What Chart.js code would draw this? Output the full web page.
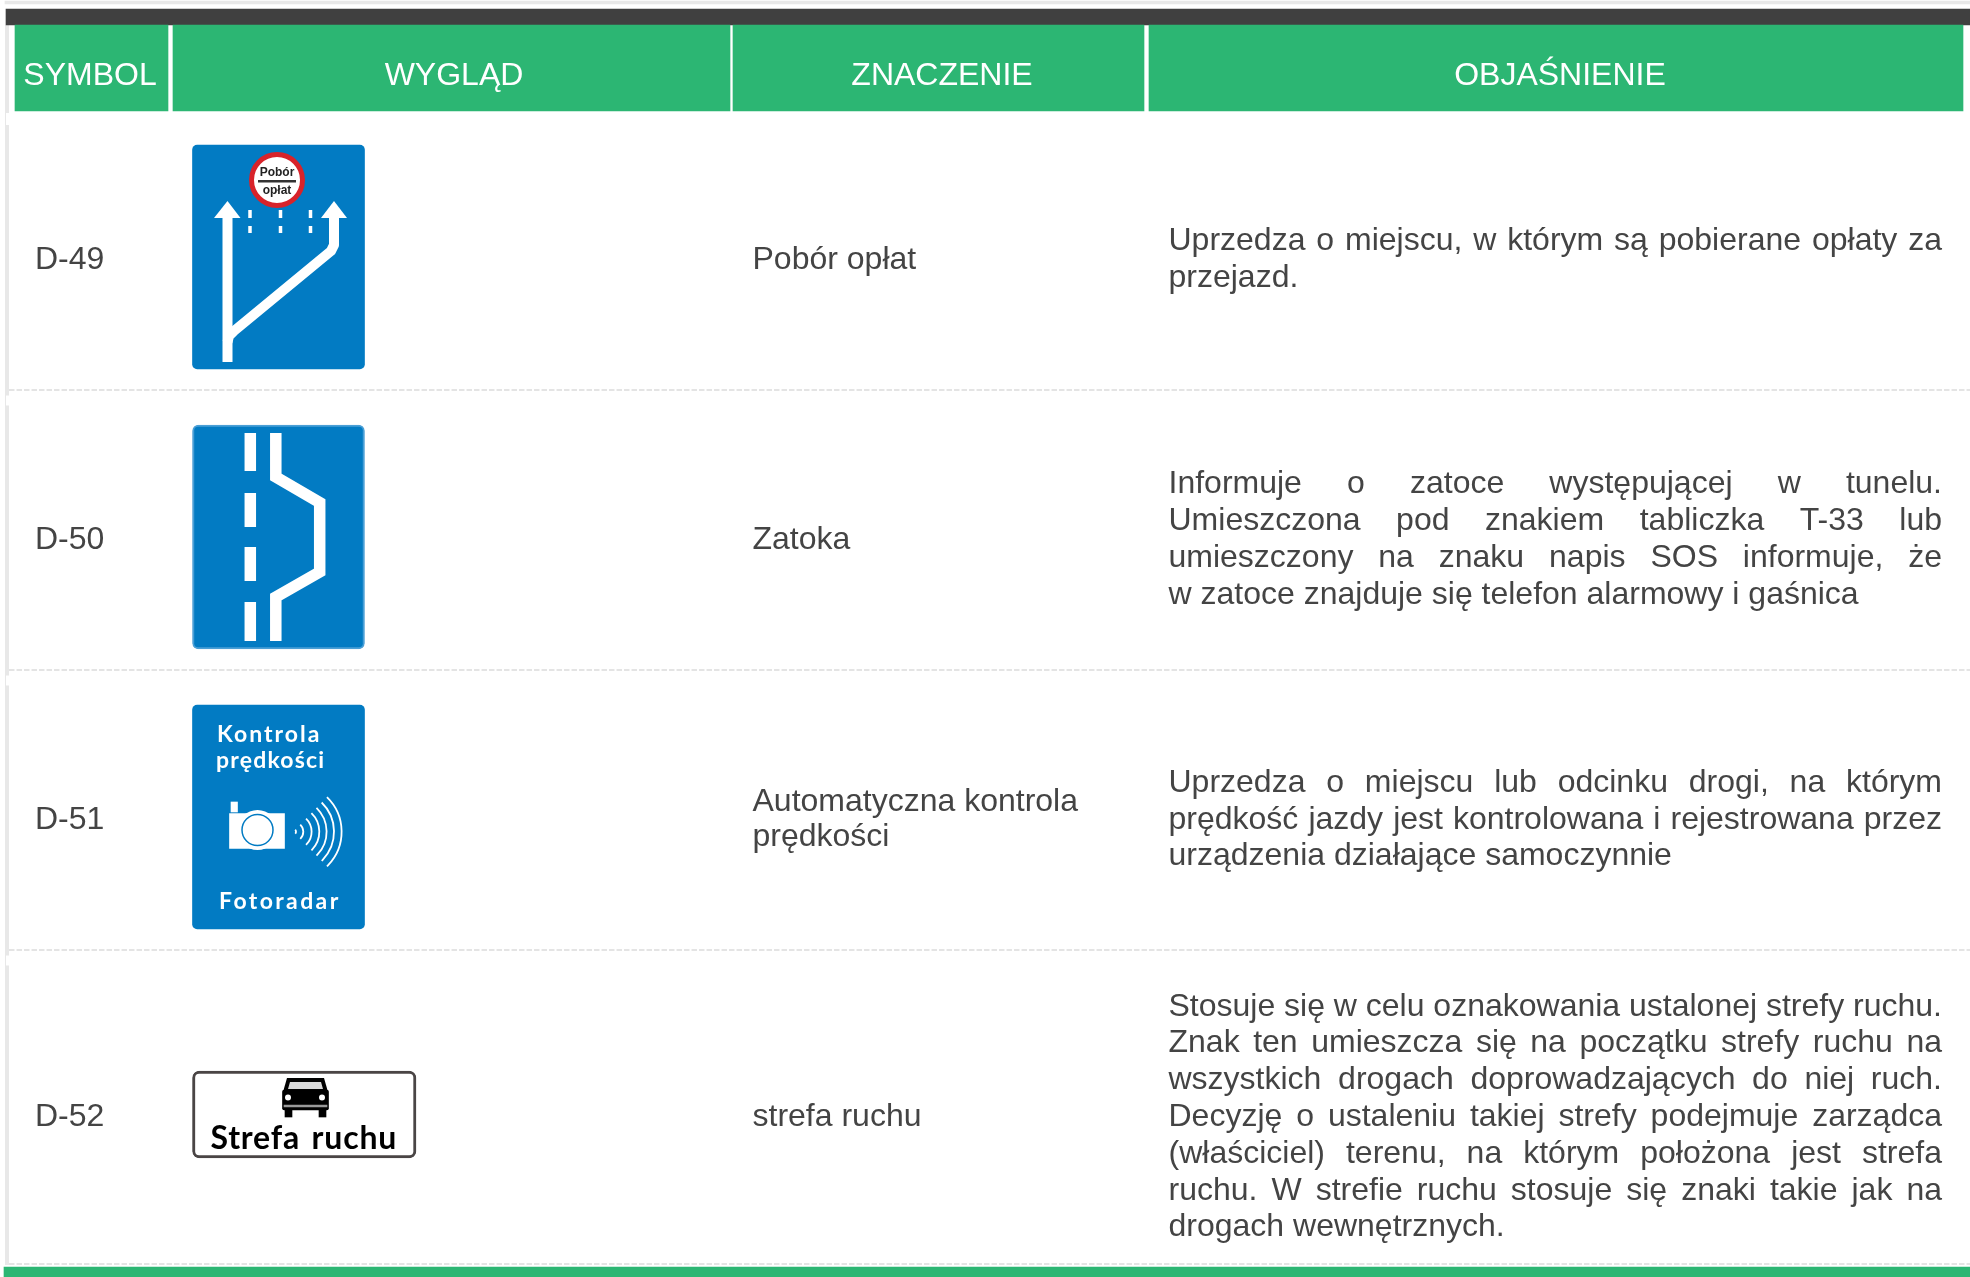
<!DOCTYPE html>
<html lang="pl">
<head>
<meta charset="utf-8">
<title>Znaki D-49 - D-52</title>
<script src="https://cdn.jsdelivr.net/npm/chart.js@4"></script>
<style>
  html, body { margin: 0; padding: 0; background: #fff; }
  canvas { display: block; }
</style>
</head>
<body>
<canvas id="myChart" width="1970" height="1277"></canvas>
<script>
// table content
const headers = ['SYMBOL', 'WYGLĄD', 'ZNACZENIE', 'OBJAŚNIENIE'];
const symbols = ['D-49', 'D-50', 'D-51', 'D-52'];
const meanings = [
  ['Pobór opłat'],
  ['Zatoka'],
  ['Automatyczna kontrola', 'prędkości'],
  ['strefa ruchu']
];
const explanations = [
  ['Uprzedza o miejscu, w którym są pobierane opłaty za', 'przejazd.'],
  ['Informuje o zatoce występującej w tunelu.', 'Umieszczona pod znakiem tabliczka T-33 lub', 'umieszczony na znaku napis SOS informuje, że', 'w zatoce znajduje się telefon alarmowy i gaśnica'],
  ['Uprzedza o miejscu lub odcinku drogi, na którym', 'prędkość jazdy jest kontrolowana i rejestrowana przez', 'urządzenia działające samoczynnie'],
  ['Stosuje się w celu oznakowania ustalonej strefy ruchu.', 'Znak ten umieszcza się na początku strefy ruchu na', 'wszystkich drogach doprowadzających do niej ruch.', 'Decyzję o ustaleniu takiej strefy podejmuje zarządca', '(właściciel) terenu, na którym położona jest strefa', 'ruchu. W strefie ruchu stosuje się znaki takie jak na', 'drogach wewnętrznych.']
];

// layout, in page pixels (the two axes run 0-1970 and 0-1277)
const colEdges = [[15, 168], [173, 730], [733, 1144], [1149, 1963]];
const headerCenters = [90, 454, 942, 1560];
const rowCenters = [257, 537, 817, 1114.5];
const rowRules = [390, 670, 950, 1264];
const lineGap = 36.8;
const meaningGap = 35;
const signCenters = [257, 537, 817];

const GREEN = '#2cb673', DARK = '#404040', BLUE = '#027bc3', TEXT = '#444444';
const FONT = '"Liberation Sans", Arial, sans-serif';

// rectangle from bars: one dataset per height
function rects(list, top, bottom, color, extra) {
  return Object.assign({
    type: 'bar', indexAxis: 'y', grouped: false,
    barThickness: bottom - top,
    backgroundColor: color, borderSkipped: false,
    data: list.map(r => ({ x: r, y: (top + bottom) / 2 }))
  }, extra);
}
function path(pts, color, width, extra) {
  return Object.assign({
    type: 'scatter', showLine: true, pointRadius: 0, borderColor: color, borderWidth: width,
    borderJoinStyle: 'miter', borderCapStyle: 'butt', fill: false, tension: 0,
    data: pts.map(p => p ? { x: p[0], y: p[1] } : { x: null, y: null })
  }, extra);
}
function shape(pts, color) {
  return path(pts.concat([pts[0]]), color, 0, { fill: 'shape', backgroundColor: color });
}
function dot(x, y, r, fill, stroke, w) {
  return {
    type: 'scatter', data: [{ x: x, y: y }], pointRadius: r, pointBackgroundColor: fill,
    pointBorderColor: stroke, pointBorderWidth: w, showLine: false
  };
}
function rulePath() {
  const pts = [];
  rowRules.forEach(y => { pts.push([9, y], [1970, y], null); });
  return pts;
}

// listed back to front
const layers = [
  rects([[5, 1970]], 1, 4, '#e8e8e8'),
  path([[5.5, 25], [5.5, 1265]], '#e8e8e8', 1),
  path([[7.5, 25], [7.5, 113], null, [7.5, 125], [7.5, 395.5], null, [7.5, 405.5], [7.5, 675.5], null, [7.5, 685.5], [7.5, 955.5], null, [7.5, 965.5], [7.5, 1265]], '#e8e8e8', 3),
  path(rulePath(), '#dcdcdc', 1.5, { borderDash: [5.5, 2] }),
  rects([[6, 1970]], 9, 25, DARK),
  rects(colEdges, 25, 111, GREEN),
  rects([[4, 1970]], 1267, 1277, GREEN),

  // blue plates; everything from here on is soft like the scaled-up sign images
  rects([[192.5, 364.5], [192.5, 364.5]], 0, 224, BLUE, {
    soft: true, borderRadius: 5,
    data: [{ x: [192.5, 364.5], y: signCenters[0] }, { x: [192.5, 364.5], y: signCenters[2] }]
  }),
  rects([[192.5, 364.5]], 0, 224, BLUE, {
    soft: true, borderRadius: 6, borderColor: '#4a9fd6', borderWidth: 2,
    data: [{ x: [192.5, 364.5], y: signCenters[1] }]
  }),

  // D-49
  path([[227.5, 362], [227.5, 216]], '#fff', 10),
  path([[334, 216], [334, 245], [331, 251], [234, 331], [229, 336], [227.5, 342]], '#fff', 10, { borderJoinStyle: 'round' }),
  shape([[227.5, 201], [240.5, 218], [214, 218]], '#fff'),
  shape([[334, 201], [347, 218], [321, 218]], '#fff'),
  path([[250, 210], [250, 218], null, [250, 226], [250, 233], null, [280.5, 210], [280.5, 218], null, [280.5, 226], [280.5, 233], null, [310.5, 210], [310.5, 218], null, [310.5, 226], [310.5, 233]], '#fff', 3.5),
  dot(277, 180, 25.5, '#fff', '#d8232a', 5),

  // D-50
  path([[250.3, 433], [250.3, 471], null, [250.3, 493], [250.3, 527], null, [250.3, 547], [250.3, 581], null, [250.3, 602], [250.3, 641]], '#fff', 11.5),
  path([[275.8, 433], [275.8, 477], [319.7, 502.5], [319.7, 572], [275.8, 597], [275.8, 641]], '#fff', 11.5),

  // D-51 camera
  rects([[229.5, 284.5]], 813.5, 848.5, '#fff'),
  rects([[231, 237.5]], 802, 812, '#fff'),
  dot(257.5, 830, 20, '#fff', '#fff', 0),
  dot(257.5, 830, 15.5, '#fff', BLUE, 1.5),

  // D-52 plate and car
  rects([[192.5, 416]], 1071, 1158, '#fff', { borderColor: '#4a4545', borderWidth: 3, borderRadius: 7 }),
  rects([[282.5, 328.5]], 1090, 1110, '#000', { borderRadius: 2 }),
  shape([[287, 1078], [324, 1078], [328, 1092], [283, 1092]], '#000'),
  shape([[290, 1082], [321, 1082], [323, 1089], [288, 1089]], '#d8d8d8'),
  rects([[285, 292], [319, 326]], 1110, 1117, '#000'),
  rects([[284, 327]], 1105, 1107, '#999'),
  dot(288, 1097.5, 3, '#fff', '#fff', 0),
  dot(322, 1097.5, 3, '#fff', '#fff', 0)
];

// soft flag carries on to the layers after it until the end of the list
const softFrom = layers.findIndex(d => d.soft);
layers.forEach((d, i) => { d.soft = i >= softFrom; });

const softSigns = {
  id: 'softSigns',
  beforeDatasetDraw(chart, args) {
    chart.ctx.filter = chart.data.datasets[args.index].soft ? 'blur(0.7px)' : 'none';
  },
  afterDatasetsDraw(chart) {
    chart.ctx.filter = 'none';
  }
};

// text and the few curved details, placed through the chart's scales
const tableText = {
  id: 'tableText',
  afterDatasetsDraw(chart) {
    const ctx = chart.ctx;
    const X = v => chart.scales.x.getPixelForValue(v);
    const Y = v => chart.scales.y.getPixelForValue(v);

    function write(str, x, y, font, color, align, spacing, words) {
      ctx.font = font;
      ctx.fillStyle = color;
      ctx.textAlign = align || 'left';
      ctx.textBaseline = 'alphabetic';
      ctx.letterSpacing = spacing || '0px';
      ctx.wordSpacing = words || '0px';
      ctx.fillText(str, X(x), Y(y));
      ctx.letterSpacing = '0px';
      ctx.wordSpacing = '0px';
    }
    // justified line: stretches the gaps between words
    function justify(str, x0, x1, y, font, color) {
      ctx.font = font;
      ctx.fillStyle = color;
      ctx.textAlign = 'left';
      ctx.textBaseline = 'alphabetic';
      const gaps = str.split(' ').length - 1;
      const free = X(x1) - X(x0) - ctx.measureText(str).width;
      ctx.wordSpacing = (free / gaps) + 'px';
      ctx.fillText(str, X(x0), Y(y));
      ctx.wordSpacing = '0px';
    }

    ctx.save();
    const body = '32px ' + FONT;
    ctx.filter = 'blur(0.3px)';

    headers.forEach((h, i) => {
      write(h, headerCenters[i], 85, body, '#fff', 'center');
    });

    symbols.forEach((s, i) => {
      const base = rowCenters[i] + 11.5;
      write(s, 35, base, body, TEXT);

      const m = meanings[i];
      m.forEach((line, k) => {
        write(line, 752.5, base + (k - (m.length - 1) / 2) * meaningGap, body, TEXT);
      });

      const e = explanations[i];
      e.forEach((line, k) => {
        const y = base + (k - (e.length - 1) / 2) * lineGap;
        if (k < e.length - 1) justify(line, 1168.5, 1942, y, body, TEXT);
        else write(line, 1168.5, y, body, TEXT);
      });
    });

    ctx.filter = 'blur(0.7px)';

    // toll disc lettering
    write('Pobór', 277, 176, 'bold 12px ' + FONT, '#222', 'center');
    write('opłat', 277, 194, 'bold 12px ' + FONT, '#222', 'center');
    ctx.fillStyle = '#333';
    ctx.fillRect(X(258), Y(180), 38, 2.5);

    // D-51 lettering
    const signFont = 'bold 23px Lato, sans-serif';
    write('Kontrola', 217, 741.5, signFont, '#fff', 'left', '2px');
    write('prędkości', 216, 768, signFont, '#fff', 'left', '1.2px');
    write('Fotoradar', 219, 909, signFont, '#fff', 'left', '2.4px');

    // radar waves
    ctx.strokeStyle = '#fff';
    ctx.lineWidth = 1.8;
    [2.7, 10, 18.3, 26, 33.3, 40.7, 48.3].forEach(r => {
      ctx.beginPath();
      ctx.arc(X(293.3), Y(831.7), r, -0.8, 0.8);
      ctx.stroke();
    });

    // D-52 lettering
    write('Strefa ruchu', 210.5, 1148.5, 'bold 32px Lato, sans-serif', '#000', 'left', '0.8px', '3px');
    ctx.restore();
  }
};

const myChart = new Chart(document.getElementById('myChart'), {
  type: 'scatter',
  data: { datasets: layers.slice().reverse() },
  plugins: [softSigns, tableText],
  options: {
    responsive: false,
    animation: false,
    events: [],
    layout: { padding: 0, autoPadding: false },
    plugins: { legend: { display: false }, title: { display: false }, tooltip: { enabled: false } },
    scales: {
      x: { type: 'linear', display: false, min: 0, max: 1970, offset: false },
      y: { type: 'linear', display: false, min: 0, max: 1277, reverse: true, offset: false }
    }
  }
});
</script>
</body>
</html>
